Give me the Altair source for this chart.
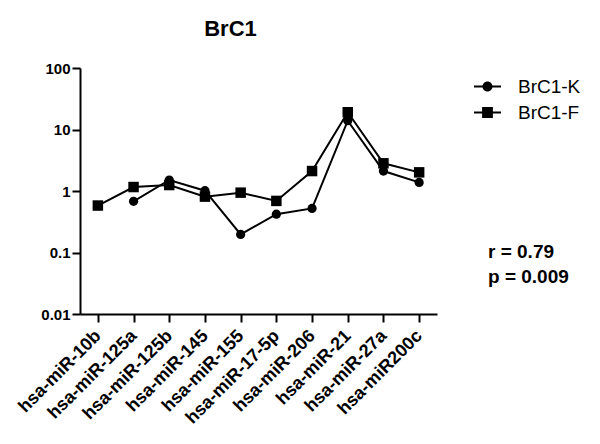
import altair as alt
import pandas as pd

categories = ["hsa-miR-10b", "hsa-miR-125a", "hsa-miR-125b", "hsa-miR-145", "hsa-miR-155",
              "hsa-miR-17-5p", "hsa-miR-206", "hsa-miR-21", "hsa-miR-27a", "hsa-miR200c"]
series_names = ["BrC1-K", "BrC1-F"]
brc1_k = [None, 0.68, 1.51, 1.01, 0.197, 0.42, 0.52, 13.9, 2.11, 1.38]
brc1_f = [0.58, 1.16, 1.25, 0.81, 0.94, 0.69, 2.11, 19.1, 2.82, 2.01]
y_ticks = [0.01, 0.1, 1, 10, 100]
stats_lines = ["r = 0.79", "p = 0.009"]

rows = []
for name, vals in zip(series_names, [brc1_k, brc1_f]):
    for c, v in zip(categories, vals):
        rows.append({"miRNA": c, "series": name, "entry": name, "value": v})
df = pd.DataFrame(rows)

FONT = "Liberation Sans"
common_axis = dict(grid=False, gridColor="white", gridWidth=0, gridOpacity=0,
                   domain=True, domainColor="#000000",
                   domainWidth=2, domainOpacity=1, ticks=True, tickColor="#000000",
                   tickWidth=2, tickSize=8, tickOpacity=1, labelColor="#000000",
                   labelFont=FONT, labelFontWeight="bold")

x_enc = alt.X("miRNA:N", sort=categories, title=None,
              scale=alt.Scale(type="point", padding=0.5),
              axis=alt.Axis(labelAngle=-45, labelAlign="right",
                            labelBaseline="middle", labelFontSize=18,
                            labelPadding=11, **common_axis))
y_enc = alt.Y("value:Q", title=None,
              scale=alt.Scale(type="log", domain=[0.01, 100], nice=False),
              axis=alt.Axis(values=y_ticks, format="~g",
                            labelFontSize=15, labelPadding=2, **common_axis))

base = alt.Chart(df).encode(x=x_enc, y=y_enc)

lines = base.mark_line(strokeWidth=2, color="black").encode(detail="series:N")

points = base.mark_point(filled=True, opacity=1, color="black").encode(
    shape=alt.Shape("series:N",
                    scale=alt.Scale(domain=series_names, range=["circle", "square"]),
                    legend=None),
    size=alt.condition(alt.datum.series == "BrC1-K", alt.value(85), alt.value(110)),
)

# legend-only layer: filled line-through-marker symbols
path_k = ("M-1,-0.074H-0.34V0.074H-1Z M0.34,-0.074H1V0.074H0.34Z "
          "M0.37,0A0.37,0.37,0,1,1,-0.37,0A0.37,0.37,0,1,1,0.37,0Z")
path_f = ("M-1,-0.074H-0.38V0.074H-1Z M0.38,-0.074H1V0.074H0.38Z "
          "M-0.4,-0.4H0.4V0.4H-0.4Z")
legend_layer = alt.Chart(df).transform_filter("false").mark_point(
    filled=True, color="black", opacity=1
).encode(
    shape=alt.Shape("entry:N",
                    scale=alt.Scale(domain=series_names, range=[path_k, path_f]),
                    legend=alt.Legend(
                        title=None, orient="none", legendX=393, legendY=4,
                        symbolSize=729, labelFontSize=19, labelFont=FONT,
                        labelColor="black",
                        labelOffset=16, rowPadding=1, padding=0,
                        symbolFillColor="black", symbolOpacity=1)),
)

stats = alt.Chart(pd.DataFrame({"t": [0]})).mark_text(
    text=stats_lines, align="left", baseline="middle", fontSize=19,
    fontWeight="bold", font=FONT, lineHeight=25, color="black",
).encode(x=alt.value(408), y=alt.value(184))

chart = alt.layer(lines, points, legend_layer, stats).resolve_scale(
    shape="independent"
).properties(
    width=357, height=246,
    background="white",
    title=alt.TitleParams("BrC1", fontSize=22, fontWeight="bold", font=FONT,
                          anchor="middle", dx=-28, offset=20, color="black"),
    autosize=alt.AutoSizeParams(type="none"),
    padding={"left": 72, "top": 60, "right": 155, "bottom": 122},
).configure_view(
    strokeWidth=0, stroke="transparent"
).configure_axis(
    grid=False, domainColor="#000000", domainWidth=2, tickColor="#000000",
    tickWidth=2, tickSize=8,
)

chart.save("out.html", embed_options={"renderer": "svg", "actions": False})
